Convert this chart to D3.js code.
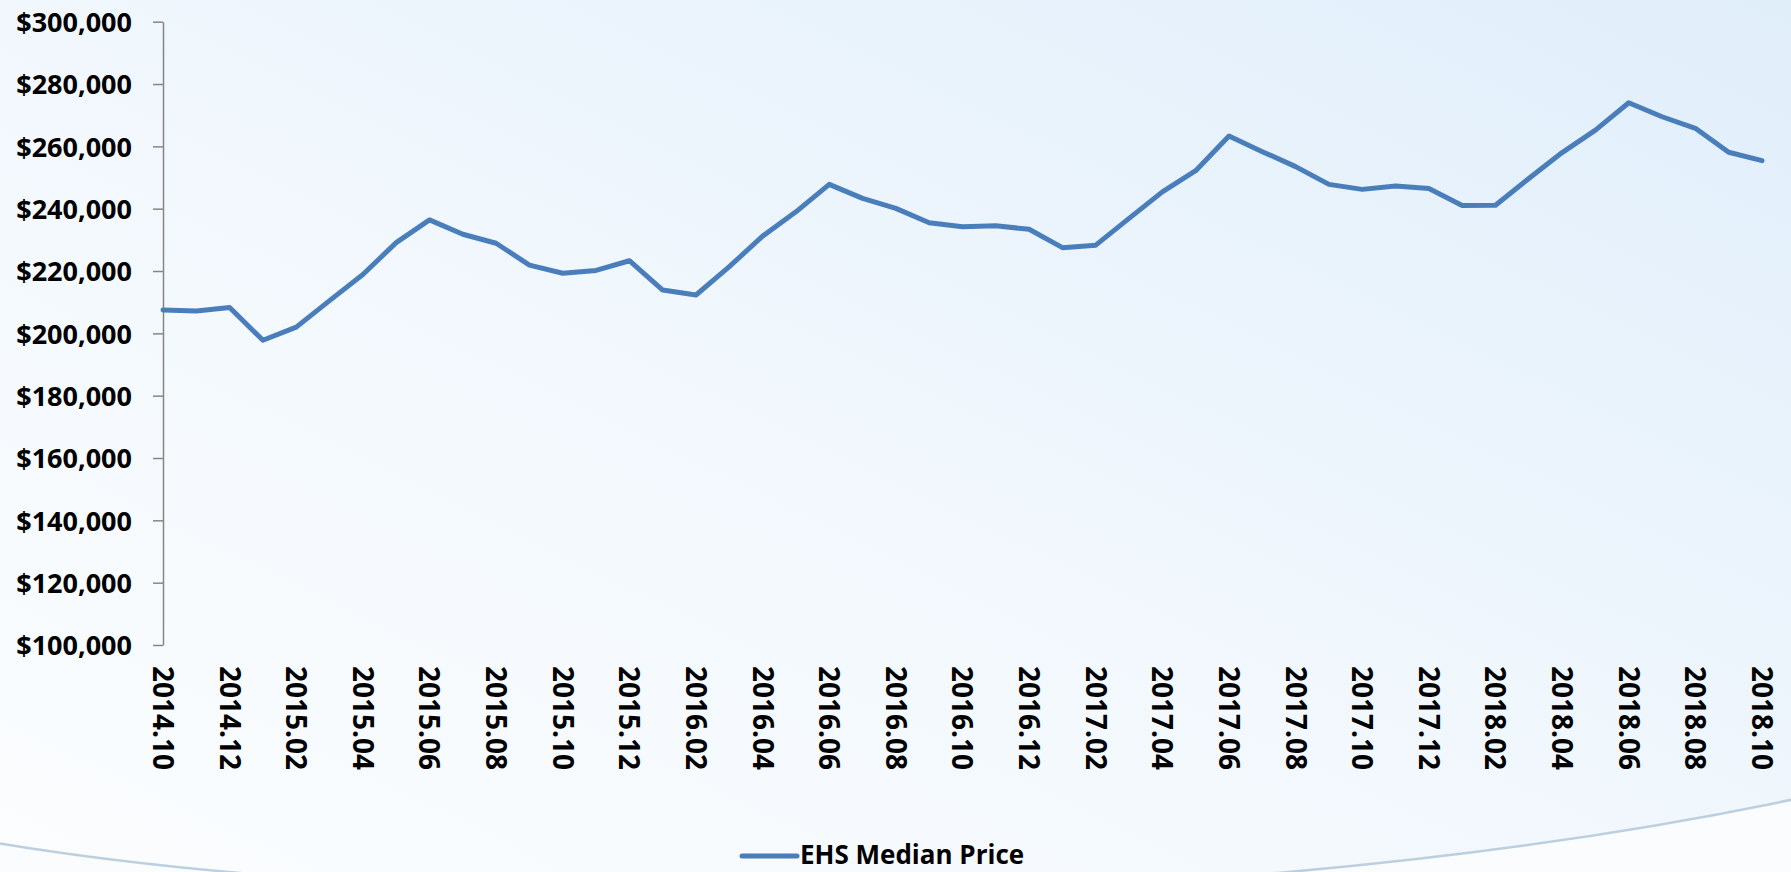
<!DOCTYPE html>
<html>
<head>
<meta charset="utf-8">
<script src="https://cdn.jsdelivr.net/npm/d3@7"></script>
<style>
  html, body { margin: 0; padding: 0; overflow: hidden; background: #f6fafd; }
  svg { display: block; }
</style>
</head>
<body>
<svg id="chart" width="1791" height="872"></svg>
<script>
// EHS median price, monthly 2014.10 – 2018.10

const months = [
  '2014.10', '2014.11', '2014.12',
  '2015.01', '2015.02', '2015.03', '2015.04', '2015.05', '2015.06',
  '2015.07', '2015.08', '2015.09', '2015.10', '2015.11', '2015.12',
  '2016.01', '2016.02', '2016.03', '2016.04', '2016.05', '2016.06',
  '2016.07', '2016.08', '2016.09', '2016.10', '2016.11', '2016.12',
  '2017.01', '2017.02', '2017.03', '2017.04', '2017.05', '2017.06',
  '2017.07', '2017.08', '2017.09', '2017.10', '2017.11', '2017.12',
  '2018.01', '2018.02', '2018.03', '2018.04', '2018.05', '2018.06',
  '2018.07', '2018.08', '2018.09', '2018.10'
];

const medianPrice = [
  207500, 207200, 208300,
  197800, 202000, 210500, 218900, 229100, 236400,
  231800, 228900, 221900, 219300, 220200, 223300,
  213900, 212300, 221400, 231200, 239000, 247800,
  243300, 240100, 235500, 234200, 234500, 233400,
  227500, 228300, 236900, 245400, 252200, 263300,
  258300, 253500, 247800, 246200, 247300, 246500,
  241000, 241100, 249700, 258000, 265200, 274000,
  269500, 265800, 258100, 255400
];

// every other month gets a label
const xTickLabels = months.filter((m, i) => i % 2 === 0);
const yTickValues = [100000, 120000, 140000, 160000, 180000, 200000, 220000, 240000, 260000, 280000, 300000];
const seriesName = 'EHS Median Price';

// ─── Style ───────────────────────────────────────────────────────────────────
const C = {
  line:   '#4a7ebb',
  axis:   '#868686',
  text:   '#000000',
  bgLow:  '#fbfdfe',
  bgHigh: '#e0eefa',
  arc:    '#bccfdf',
  font:   '"Open Sans", "Noto Sans", sans-serif',
};

const W = 1791, H = 872;
const plot = { left: 163, right: 1762, top: 21.7, bottom: 645 };

const svg = d3.select('#chart');

// Background gradient + decorative arc
const defs = svg.append('defs');
const grad = defs.append('linearGradient').attr('id', 'bg')
  .attr('x1', '0').attr('y1', '1').attr('x2', '1').attr('y2', '0');
grad.append('stop').attr('offset', '0').attr('stop-color', C.bgLow);
grad.append('stop').attr('offset', '0.45').attr('stop-color', '#f2f8fd');
grad.append('stop').attr('offset', '1').attr('stop-color', C.bgHigh);

svg.append('rect').attr('width', W).attr('height', H).attr('fill', 'url(#bg)');

const arcPath = 'M -20 840 C 350 905, 1150 935, 1800 798';
svg.append('path')
  .attr('d', `${arcPath} L 1800 880 L -20 880 Z`)
  .attr('fill', '#fafcfe');
svg.append('path')
  .attr('d', arcPath)
  .attr('fill', 'none').attr('stroke', C.arc).attr('stroke-width', 2.5);

// Scales
const x = d3.scalePoint().domain(months).range([plot.left, plot.right]);
const y = d3.scaleLinear().domain([100000, 300000]).range([plot.bottom, plot.top]);

// Y axis
const yAxis = d3.axisLeft(y)
  .tickValues(yTickValues)
  .tickSize(10)
  .tickSizeOuter(0)
  .tickPadding(21)
  .tickFormat(d3.format('$,'));

const yG = svg.append('g').attr('transform', `translate(${plot.left},0)`).call(yAxis);
yG.select('.domain').attr('stroke', C.axis).attr('stroke-width', 1.5);
yG.selectAll('.tick line').attr('stroke', C.axis).attr('stroke-width', 1.5);
yG.selectAll('.tick text')
  .attr('fill', C.text).attr('font-family', C.font)
  .attr('font-size', 27).attr('font-weight', 700)
  .attr('dy', '0.36em');

// X labels (rotated, no axis line)
svg.append('g').selectAll('text').data(xTickLabels).enter().append('text')
  .attr('transform', (d) => `translate(${x(d)},666) rotate(90)`)
  .attr('dy', '0.36em')
  .attr('fill', C.text).attr('font-family', C.font)
  .attr('font-size', 28).attr('font-weight', 700)
  .text((d) => d);

// Line
const line = d3.line()
  .x((d, i) => x(months[i]))
  .y((d) => y(d));

svg.append('path')
  .datum(medianPrice)
  .attr('d', line)
  .attr('fill', 'none')
  .attr('stroke', C.line).attr('stroke-width', 5)
  .attr('stroke-linejoin', 'round').attr('stroke-linecap', 'round');

// Legend
const legend = svg.append('g').attr('transform', 'translate(742,856)');
legend.append('line').attr('x1', 0).attr('x2', 55).attr('y1', 0).attr('y2', 0)
  .attr('stroke', C.line).attr('stroke-width', 5).attr('stroke-linecap', 'round');
legend.append('text').attr('x', 58).attr('y', 8)
  .attr('fill', C.text).attr('font-family', C.font)
  .attr('font-size', 26).attr('font-weight', 700)
  .text(seriesName);
</script>
</body>
</html>
